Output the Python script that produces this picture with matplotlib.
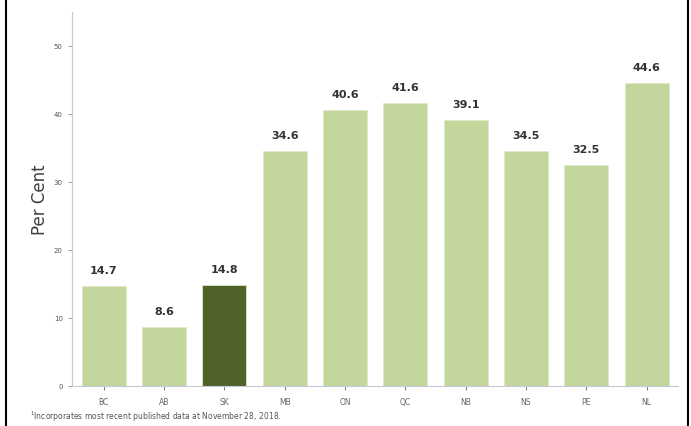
import matplotlib.pyplot as plt
from matplotlib.lines import Line2D

provinces = ["BC", "AB", "SK", "MB", "ON", "QC", "NB", "NS", "PE", "NL"]
values = [14.7, 8.6, 14.8, 34.6, 40.6, 41.6, 39.1, 34.5, 32.5, 44.6]
highlight = "SK"
yticks = [0, 10, 20, 30, 40, 50]

light = "#c3d69b"
dark = "#4f6228"
colors = [dark if p == highlight else light for p in provinces]

fig = plt.figure(figsize=(6.91, 4.27), dpi=100)
ax = fig.add_axes([0.104, 0.094, 0.877, 0.876])

bars = ax.bar(provinces, values, width=0.73, color=colors, edgecolor="#dfe9c8", linewidth=0.6)
for b, v in zip(bars, values):
    ax.text(b.get_x() + b.get_width() / 2, v + 1.6, f"{v:.1f}", ha="center", va="bottom",
            fontsize=8, fontweight="bold", color="#333333")

ax.set_xlim(-0.53, len(provinces) - 0.48)
ax.set_ylim(0, 55)
ax.set_yticks(yticks)
ax.set_ylabel("Per Cent", fontsize=12, color="#404040")
ax.yaxis.set_label_coords(-0.037, 0.5)
ax.tick_params(axis="y", labelsize=5, colors="#888888", length=3, width=0.6)
ax.tick_params(axis="x", labelsize=5.5, colors="#666666", length=3, width=0.6, pad=5)
for lab in ax.get_yticklabels():
    lab.set_color("#555555")

for s in ["top", "right"]:
    ax.spines[s].set_visible(False)
ax.spines["left"].set_color("#c8c8c8")
ax.spines["bottom"].set_color("#c8c8d8")
ax.spines["left"].set_linewidth(0.8)
ax.spines["bottom"].set_linewidth(0.8)

fig.text(0.043, 0.017, "$^1$Incorporates most recent published data at November 28, 2018.",
         fontsize=5.5, color="#555555")

# page border
fig.add_artist(Line2D([0.008, 0.008], [0, 1], color="black", linewidth=1.5))
fig.add_artist(Line2D([0.996, 0.996], [0, 1], color="black", linewidth=1.5))

fig.savefig("out.png", dpi=100)
